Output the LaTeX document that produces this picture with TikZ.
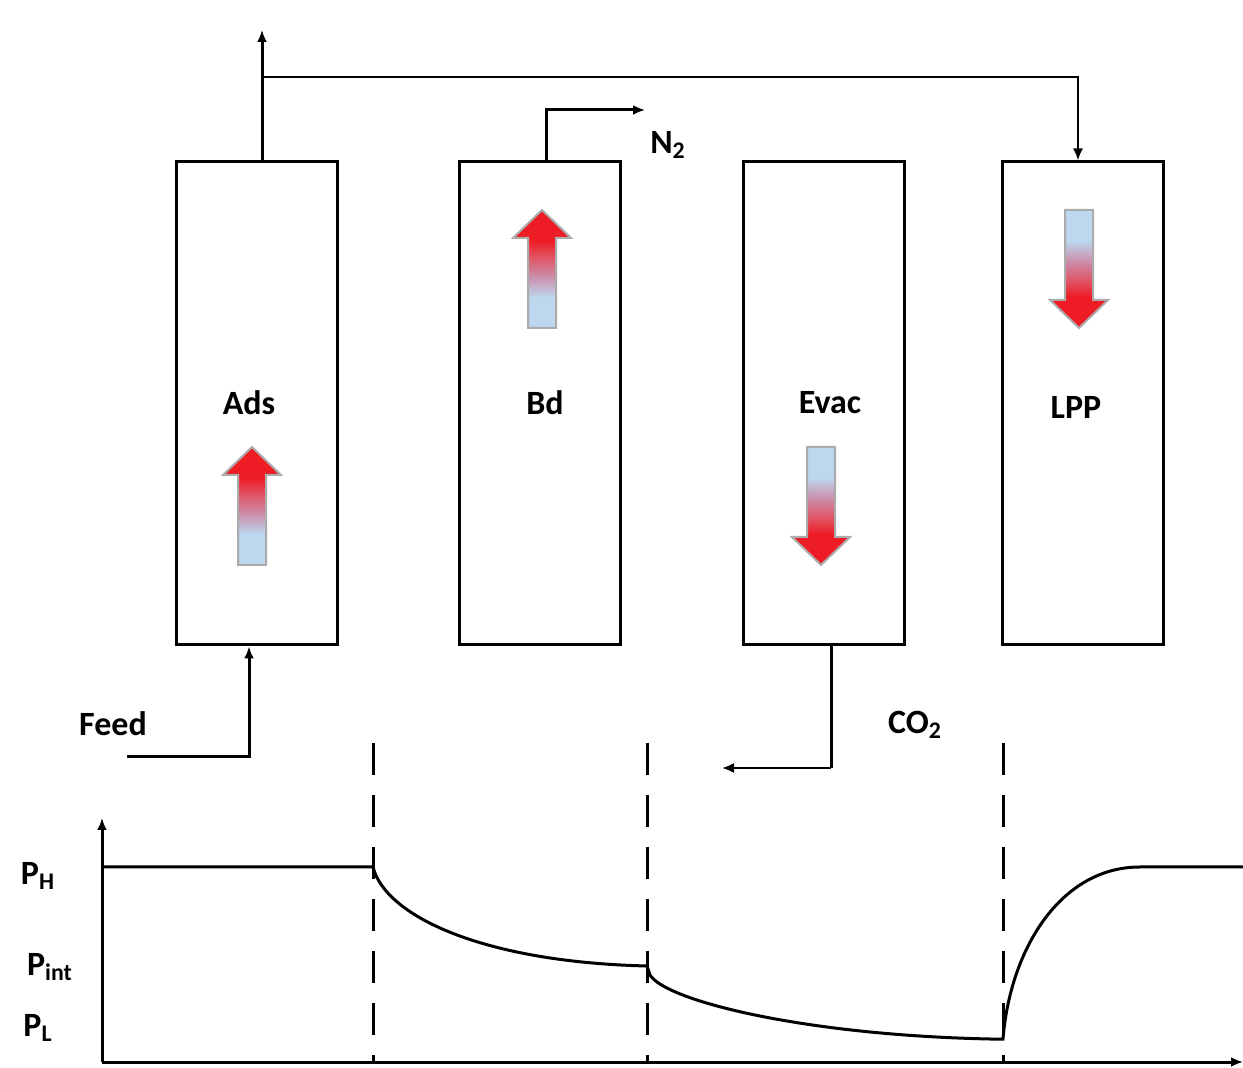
\documentclass[tikz,border=0pt]{standalone}
\usepackage{fontspec}
\setmainfont{Carlito}
\usetikzlibrary{arrows.meta}
\definecolor{flowred}{RGB}{238,28,36}
\definecolor{flowpink}{RGB}{224,84,100}
\definecolor{flowmid}{RGB}{205,132,160}
\definecolor{flowblue}{RGB}{189,215,238}
\pgfdeclareverticalshading{flowshade}{100bp}{color(0bp)=(flowblue); color(38bp)=(flowblue); color(48bp)=(flowmid); color(55bp)=(flowpink); color(62bp)=(flowred); color(100bp)=(flowred)}

\begin{document}
\begin{tikzpicture}[x=0.5pt, y=-0.5pt, >={Latex[length=6pt,width=5pt]},
  font=\fontsize{17}{20}\selectfont\bfseries,
  column/.style={draw, line width=1.5pt, minimum width=80.5pt, minimum height=241.5pt, inner sep=0pt},
  pipe/.style={line width=1.5pt},
  thinpipe/.style={line width=1pt},
  phase/.style={line width=1.5pt, dash pattern=on 16pt off 10pt},
  flow/.style={shading=flowshade, draw=black!33, line width=1pt},
  flowup/.pic={\shade[flow] (-14,0) -- (-14,-90) -- (-29,-90) -- (0,-118) -- (29,-90) -- (14,-90) -- (14,0) -- cycle;},
  flowdown/.pic={\shade[flow, shading angle=180] (-14,0) -- (-14,90) -- (-29,90) -- (0,118) -- (29,90) -- (14,90) -- (14,0) -- cycle;}]
\useasboundingbox (0,0) rectangle (1243,1068);
% columns
\node[column] (ads) at (256.5,403.5) {};
\node[column] (bd) at (540,403.5) {};
\node[column] (evac) at (824,403.5) {};
\node[column] (lpp) at (1083,403.5) {};
\node (adstext) at (249,403) {Ads};
\node (bdtext) at (545,403) {Bd};
\node (evactext) at (830,403) {Evac};
\node (lpptext) at (1076,407) {LPP};
\pic at (252,565) {flowup};
\pic at (542,328) {flowup};
\pic at (821,447) {flowdown};
\pic at (1079,210) {flowdown};
% streams
\coordinate (prod) at (262,30);\coordinate (split) at (262,77);
\draw[pipe,->] ([xshift=2.75pt]ads.north) -- (prod);
\draw[thinpipe,->] (split) -| ([xshift=-2.5pt]lpp.north);
\coordinate (nout) at (645,110);
\draw[pipe,->] ([xshift=3pt]bd.north) |- (nout);
\node (n2) at (668,145) {N\textsubscript{2}};
\coordinate (cout) at (722,768);
\draw[pipe] ([xshift=3.5pt]evac.south) -- ([xshift=3.5pt]evac.south |- cout);
\draw[thinpipe,->] ([xshift=3.5pt]evac.south |- cout) -- (cout);
\node (co2) at (915,725) {CO\textsubscript{2}};
\coordinate (fin) at (127,757);
\draw[pipe,->] (fin) -| ([xshift=-3.75pt]ads.south);
\node (feed) at (113,724) {Feed};
% pressure profile
\coordinate (origin) at (102,1062);\coordinate (ytop) at (102,818);\coordinate (xend) at (1243,1062);
\draw[pipe,->] (origin) -- (ytop);\draw[pipe,->] (origin) -- (xend);
\foreach \x in {373,647,1003} \draw[phase] (\x,743) -- (\x,1062);
\draw[pipe] (102,867) -- (373,867) .. controls (385,915) and (480,962) .. (647,966) -- (650,975) .. controls (665,1000) and (800,1035) .. (990,1039) -- (1003,1039) .. controls (1010,950) and (1060,867) .. (1140,867) -- (1243,867);
\node (ph) at (38,876) {P\textsubscript{H}};
\node (pint) at (50,967) {P\textsubscript{int}};
\node (pl) at (38,1028) {P\textsubscript{L}};
\end{tikzpicture}
\end{document}
